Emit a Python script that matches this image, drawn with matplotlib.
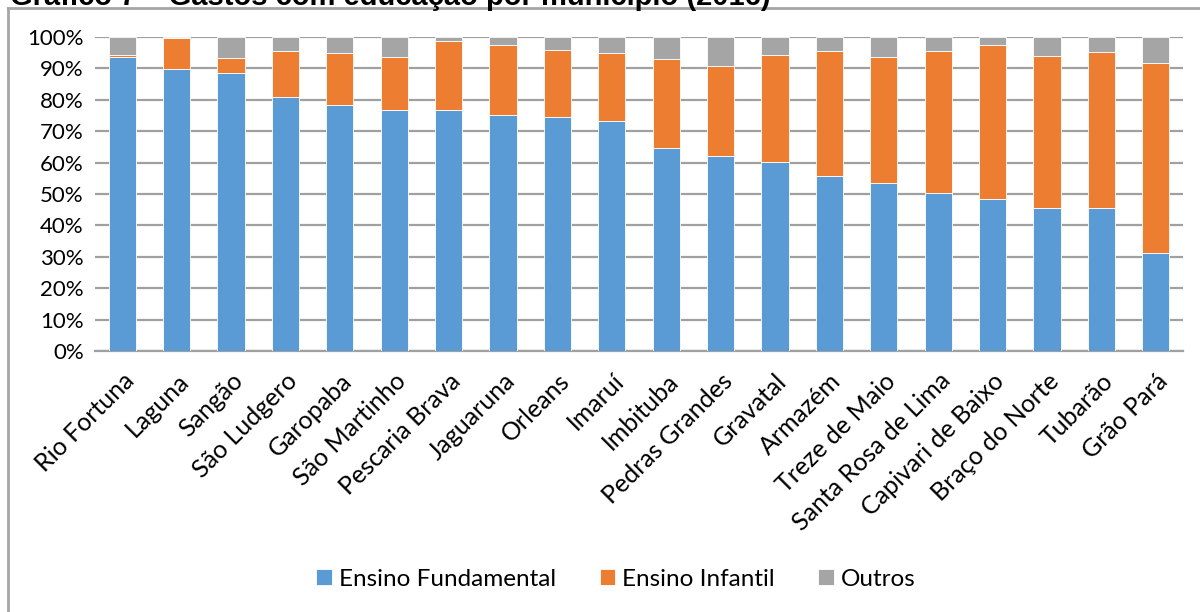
import matplotlib.pyplot as plt
from matplotlib.lines import Line2D
from matplotlib.transforms import ScaledTranslation
import numpy as np

municipios = ['Rio Fortuna', 'Laguna', 'Sangão', 'São Ludgero', 'Garopaba',
              'São Martinho', 'Pescaria Brava', 'Jaguaruna', 'Orleans', 'Imaruí',
              'Imbituba', 'Pedras Grandes', 'Gravatal', 'Armazém', 'Treze de Maio',
              'Santa Rosa de Lima', 'Capivari de Baixo', 'Braço do Norte', 'Tubarão',
              'Grão Pará']
fundamental = [93.5, 89.7, 88.5, 81.0, 78.2, 76.9, 76.7, 75.1, 74.5, 73.4,
               64.5, 62.2, 60.2, 55.6, 53.4, 50.4, 48.5, 45.6, 45.6, 31.3]
infantil = [0.9, 9.9, 4.7, 14.7, 16.6, 16.7, 22.1, 22.5, 21.5, 21.4,
            28.4, 28.6, 34.1, 39.8, 40.2, 45.1, 48.9, 48.2, 49.5, 60.5]
outros = [100 - f - i for f, i in zip(fundamental, infantil)]

plt.rcParams['font.family'] = ['Lato', 'DejaVu Sans']

fig = plt.figure(figsize=(12, 6.12), dpi=100)
ax = fig.add_axes([95/1200, 1-351/612, (1183-95)/1200, (351-37)/612])

x = np.arange(len(municipios))
w = 0.5
ax.bar(x, fundamental, w, color='#5B9BD5', edgecolor='white', linewidth=0.6,
       label='Ensino Fundamental', zorder=3)
ax.bar(x, infantil, w, bottom=fundamental, color='#ED7D31', edgecolor='white',
       linewidth=0.6, label='Ensino Infantil', zorder=3)
base2 = [f + i for f, i in zip(fundamental, infantil)]
ax.bar(x, outros, w, bottom=base2, color='#A5A5A5', edgecolor='white',
       linewidth=0.6, label='Outros', zorder=3)

ax.set_xlim(-0.5, len(municipios) - 0.5)
ax.set_ylim(0, 100)
ax.set_yticks(range(0, 101, 10))
ax.set_yticklabels([f'{v}%' for v in range(0, 101, 10)], fontsize=16)
ax.set_xticks(x)
ax.set_xticklabels(municipios, rotation=45, ha='right', rotation_mode='anchor',
                   fontsize=18)
# nudge the slanted labels a little to the right, as in the original
shift = ScaledTranslation(6/100, 0, fig.dpi_scale_trans)
for lbl in ax.get_xticklabels():
    lbl.set_transform(lbl.get_transform() + shift)
ax.tick_params(axis='y', length=0, pad=8)
ax.tick_params(axis='x', length=0, pad=13)
ax.grid(axis='y', color='#a0a0a0', linewidth=1.6, zorder=0)
for s in ['top', 'right', 'left']:
    ax.spines[s].set_visible(False)
ax.spines['bottom'].set_color('#a0a0a0')
ax.spines['bottom'].set_linewidth(1.6)

fig.legend(loc='center', bbox_to_anchor=(616/1200, 1-579/612), ncol=3,
           frameon=False, fontsize=17.5, handlelength=0.62, handleheight=0.62,
           handletextpad=0.3, columnspacing=1.8)

# chart border (only left and top edges visible)
fig.add_artist(Line2D([8/1200, 8/1200], [0, 1-8/612], color='#a6a6a6', lw=2))
fig.add_artist(Line2D([8/1200, 1], [1-8/612, 1-8/612], color='#a6a6a6', lw=2))

fig.text(10/1200, 1-5/612, 'Gráfico 7 – Gastos com educação por município (2016)',
         fontsize=21, fontweight='bold', family='Liberation Sans', va='baseline')

fig.savefig('out.png', dpi=100)
